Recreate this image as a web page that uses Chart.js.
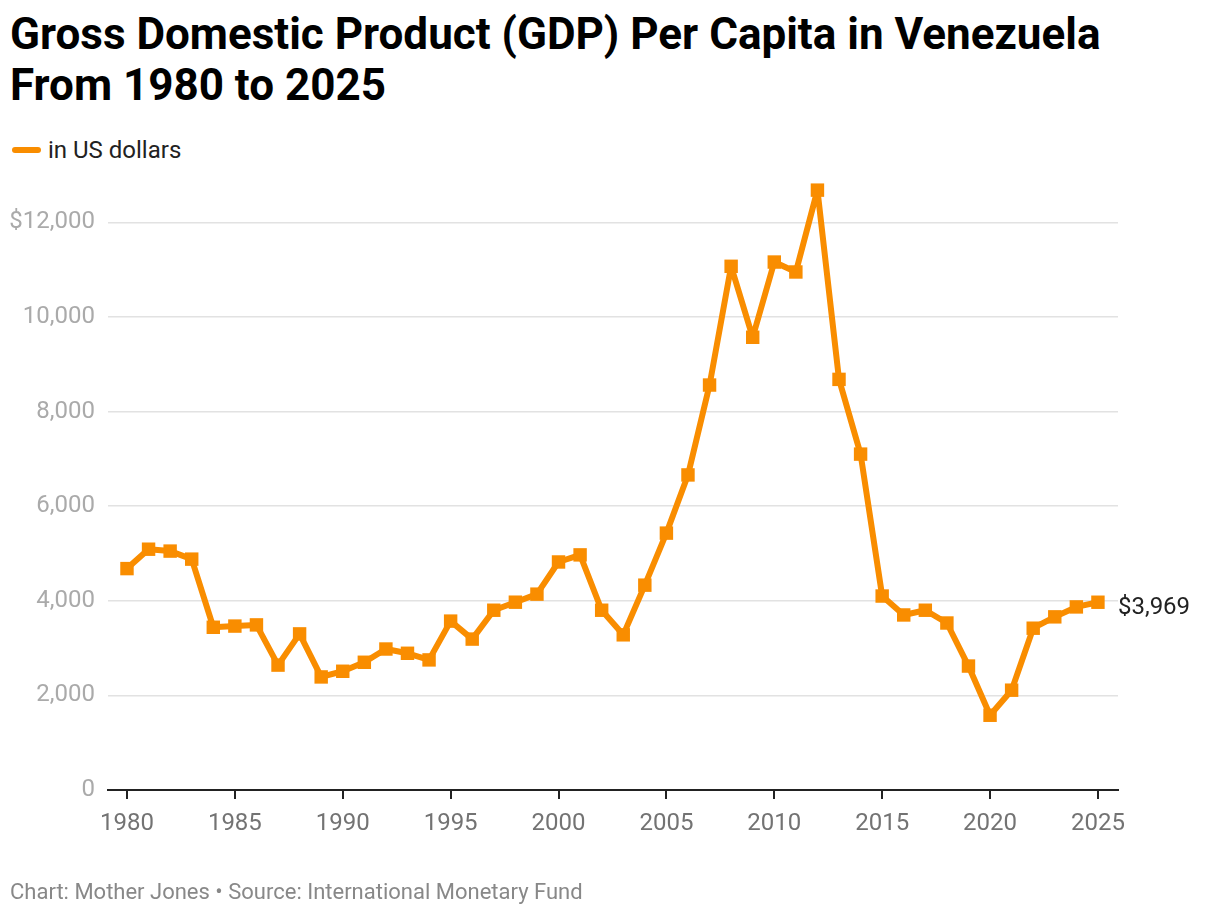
<!DOCTYPE html>
<html>
<head>
<meta charset="utf-8">
<script src="https://cdn.jsdelivr.net/npm/chart.js@4.4.1/dist/chart.umd.min.js"></script>
<style>
  body { margin:0; background:#fff; font-family: Roboto, sans-serif; }
  #wrap { position:relative; width:1220px; height:916px; }
  #title { position:absolute; left:10px; top:9px; font-weight:700; font-size:44px; line-height:51px; color:#000; }
  #legend { position:absolute; left:12px; top:136px; font-size:24px; color:#222; }
  #legend span.sw { display:inline-block; width:29px; height:6px; border-radius:3px; background:#f98d00; vertical-align:middle; margin-right:7px; position:relative; top:-2px; }
  #foot { position:absolute; left:10px; top:879px; font-size:22px; color:#888; }
  canvas { position:absolute; left:0; top:0; }
</style>
</head>
<body>
<div id="wrap">
  <div id="title">Gross Domestic Product (GDP) Per Capita in Venezuela<br>From 1980 to 2025</div>
  <div id="legend"><span class="sw"></span>in US dollars</div>
  <canvas id="myChart" width="1220" height="916"></canvas>
  <div id="foot">Chart: Mother Jones • Source: International Monetary Fund</div>
</div>
<script>
const years = [1980,1981,1982,1983,1984,1985,1986,1987,1988,1989,
  1990,1991,1992,1993,1994,1995,1996,1997,1998,1999,
  2000,2001,2002,2003,2004,2005,2006,2007,2008,2009,
  2010,2011,2012,2013,2014,2015,2016,2017,2018,2019,
  2020,2021,2022,2023,2024,2025];
const gdp_per_capita = [4680,5090,5050,4880,3440,3465,3490,2640,3300,2390,
  2510,2700,2980,2890,2750,3570,3190,3800,3970,4140,
  4820,4970,3800,3280,4330,5430,6660,8560,11070,9570,
  11160,10950,12680,8680,7100,4100,3700,3800,3530,2620,
  1580,2110,3420,3660,3870,3969];
const x_ticks = [1980,1985,1990,1995,2000,2005,2010,2015,2020,2025];
const y_ticks = [0,2000,4000,6000,8000,10000,12000];

const orange = '#f98d00';

// label for the last value, right of the final point
const endLabel = {
  id: 'endLabel',
  afterDatasetsDraw(chart){
    let ctx = chart.ctx;
    let i = years.length - 1;
    let x = chart.scales.x.getPixelForValue(years[i]);
    let y = chart.scales.y.getPixelForValue(gdp_per_capita[i]);
    ctx.save();
    ctx.font = '24px Roboto';
    ctx.fillStyle = '#222';
    ctx.textBaseline = 'middle';
    ctx.fillText('$' + gdp_per_capita[i].toLocaleString('en-US'), x + 20, y + 6);
    ctx.restore();
  }
};

const ctx = document.getElementById('myChart').getContext('2d');
const myChart = new Chart(ctx, {
  type: 'line',
  data: {
    datasets: [{
      label: 'in US dollars',
      data: years.map((y, i) => ({x: y, y: gdp_per_capita[i]})),
      borderColor: orange,
      backgroundColor: orange,
      borderWidth: 6,
      borderJoinStyle: 'round',
      pointStyle: 'rect',
      pointRadius: 9.5,
      pointBorderWidth: 0,
      pointBackgroundColor: orange,
      tension: 0
    }]
  },
  options: {
    responsive: false,
    animation: false,
    layout: { padding: { top: 175, right: 102, left: 0, bottom: 0 } },
    plugins: { legend: { display: false }, tooltip: { enabled: false } },
    scales: {
      x: {
        type: 'linear',
        min: 1979.12,
        max: 2025.93,
        afterBuildTicks: (s) => { s.ticks = x_ticks.map(v => ({value: v})); },
        afterFit: (s) => { s.height = 126; },
        grid: { drawOnChartArea: false, drawTicks: true, tickLength: 9, color: '#222', lineWidth: 2 },
        border: { display: true, color: '#222', width: 2 },
        ticks: { color: '#737373', font: { family: 'Roboto', size: 24 }, padding: 11, callback: (v) => String(v) }
      },
      y: {
        min: 0,
        max: 13000,
        afterBuildTicks: (s) => { s.ticks = y_ticks.map(v => ({value: v})); },
        afterFit: (s) => { s.width = 108; },
        grid: { color: '#e2e2e2', lineWidth: 1.5, drawTicks: false },
        border: { display: false },
        ticks: {
          color: '#aaa',
          font: { family: 'Roboto', size: 24 },
          padding: 13,
          callback: (v) => (v == 12000 ? '$' : '') + v.toLocaleString('en-US')
        }
      }
    }
  },
  plugins: [endLabel]
});
</script>
</body>
</html>
